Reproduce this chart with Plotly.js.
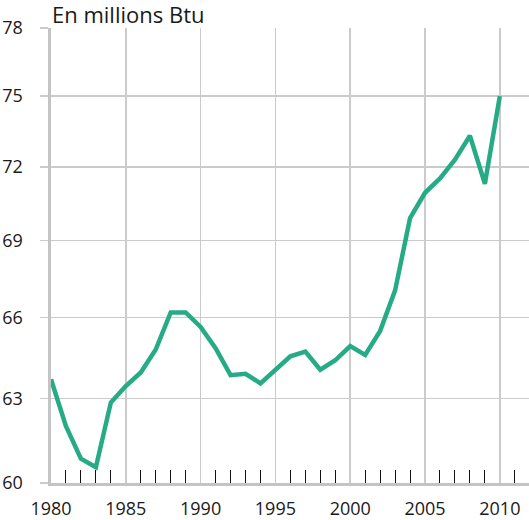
<!DOCTYPE html>
<html>
<head>
<meta charset="utf-8">
<script src="https://cdn.plot.ly/plotly-3.0.1.min.js"></script>
<style>html,body{margin:0;padding:0;background:#fff;}#chart{width:529px;height:520px;}</style>
</head>
<body>
<div id="chart"></div>
<script>
const years = [1980,1981,1982,1983,1984,1985,1986,1987,1988,1989,1990,1991,1992,1993,1994,1995,1996,1997,1998,1999,2000,2001,2002,2003,2004,2005,2006,2007,2008,2009,2010];
const values = [63.7,62.0,60.85,60.55,62.85,63.45,63.95,64.8,66.2,66.2,65.65,64.85,63.85,63.9,63.55,64.05,64.55,64.72,64.05,64.4,64.93,64.6,65.5,67.05,69.9,70.93,71.52,72.3,73.3,71.3,75.0];
const yTicks = [60,63,66,69,72,75,78];
const xTicks = [1980,1985,1990,1995,2000,2005,2010];
const minorYears = [1981,1982,1983,1984,1986,1987,1988,1989,1991,1992,1993,1994,1996,1997,1998,1999,2001,2002,2003,2004,2006,2007,2008,2009,2011];
const titleText = "En millions Btu";

const font = "'Open Sans', sans-serif";
Plotly.newPlot('chart', [{
  x: years, y: values, type: 'scatter', mode: 'lines',
  line: {color: '#27ab86', width: 4.5}, hoverinfo: 'skip'
}], {
  width: 529, height: 520,
  margin: {l: 51, r: 0, t: 28, b: 37},
  paper_bgcolor: '#fff', plot_bgcolor: '#fff',
  showlegend: false,
  font: {family: font, color: '#1a1a1a', size: 18},
  annotations: [{
    text: titleText, xref: 'paper', yref: 'paper', x: 0, y: 1,
    xanchor: 'left', yanchor: 'bottom', xshift: -1, yshift: -3, showarrow: false,
    font: {family: font, size: 22, color: '#1a1a1a'}
  }],
  xaxis: {
    range: [1980, 2011.95], tickvals: xTicks, ticktext: xTicks.map(String),
    tickfont: {family: font, size: 18, color: '#1a1a1a'},
    showgrid: true, gridcolor: '#cbcbcb', gridwidth: 1.5,
    ticks: '', ticklabelstandoff: 7,
    showline: true, linecolor: '#c4c4c4', linewidth: 3,
    zeroline: false,
    minor: {tickmode: 'array', tickvals: minorYears, ticks: 'inside', ticklen: 13, tickcolor: '#111', tickwidth: 1, showgrid: false}
  },
  yaxis: {
    type: 'log', range: [Math.log10(60), Math.log10(78)],
    tickvals: yTicks, ticktext: yTicks.map(String),
    tickfont: {family: font, size: 18, color: '#1a1a1a'},
    showgrid: true, gridcolor: '#cbcbcb', gridwidth: 1.5,
    ticks: 'outside', ticklen: 8, tickcolor: '#cbcbcb', tickwidth: 1.5,
    ticklabelstandoff: 13,
    showline: true, linecolor: '#c4c4c4', linewidth: 3.5,
    zeroline: false
  }
}, {staticPlot: true});
</script>
</body>
</html>
